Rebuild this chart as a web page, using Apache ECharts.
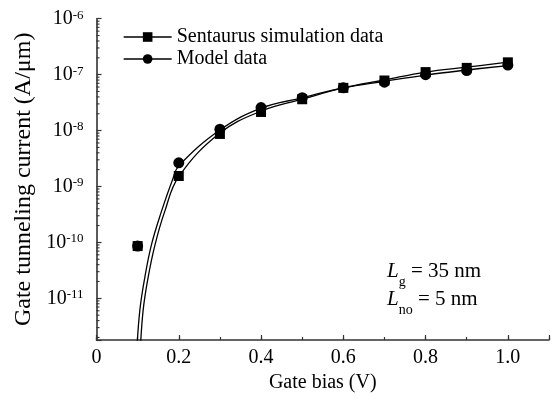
<!DOCTYPE html>
<html><head><meta charset="utf-8">
<script src="https://cdn.jsdelivr.net/npm/echarts@6/dist/echarts.min.js"></script>
<style>html,body{margin:0;padding:0;background:#fff}#c{width:552px;height:398px}</style>
</head><body><div id="c"></div>
<script>
// ---- data ----
const gateBias = [0.1, 0.2, 0.3, 0.4, 0.5, 0.6, 0.7, 0.8, 0.9, 1.0];
const simPoints = [8.6e-11, 1.54e-9, 8.7e-9, 2.15e-8, 3.63e-8, 5.8e-8, 7.85e-8, 1.11e-7, 1.32e-7, 1.66e-7];
const modelPoints = [8.6e-11, 2.65e-9, 1.06e-8, 2.58e-8, 3.88e-8, 5.8e-8, 7.33e-8, 1.0e-7, 1.18e-7, 1.48e-7];
const simCurveX = [0.106, 0.1132, 0.1253, 0.1422, 0.1657, 0.2, 0.3, 0.4, 0.5, 0.6, 0.7, 0.8, 0.9, 1.0];
const simCurveY = [1.0e-12, 5.98e-12, 2.33e-11, 9.06e-11, 3.55e-10, 1.5e-9, 9.03e-9, 2.22e-8, 3.63e-8, 5.78e-8, 8.02e-8, 1.11e-7, 1.36e-7, 1.67e-7];
const modelCurveX = [0.0975, 0.1052, 0.1173, 0.1335, 0.1577, 0.1857, 0.2, 0.3, 0.4, 0.5, 0.6, 0.7, 0.8, 0.9, 1.0];
const modelCurveY = [1.0e-12, 5.98e-12, 2.33e-11, 9.06e-11, 3.55e-10, 1.38e-9, 2.34e-9, 1.02e-8, 2.51e-8, 3.85e-8, 5.78e-8, 7.59e-8, 9.84e-8, 1.21e-7, 1.45e-7];
const seriesNames = ['Sentaurus simulation data', 'Model data'];
const xTickLabels = ['0', '0.2', '0.4', '0.6', '0.8', '1.0'];
const yMinorMantissas = [2, 3, 4, 5, 6, 7, 8, 9];
const yMinorDecades = [-12, -11, -10, -9, -8, -7];

const FONT = "'Liberation Serif','Times New Roman',serif";
const zip = (xs, ys) => xs.map((x, i) => [x, ys[i]]);
const yMin = 1.8e-12, yMax = 1e-6;
const yMinor = [];
yMinorDecades.forEach(d => yMinorMantissas.forEach(m => { const v = m * Math.pow(10, d); if (v > yMin && v < yMax) yMinor.push(v); }));

const chart = echarts.init(document.getElementById('c'), null, {renderer: 'canvas'});
chart.setOption({
  animation: false,
  backgroundColor: '#fff',
  grid: {left: 96.5, right: 0.6, top: 18.7, bottom: 55.3, containLabel: false},
  legend: {
    data: seriesNames, orient: 'vertical', left: 118, top: 22,
    itemWidth: 48, itemHeight: 12, itemGap: 2, selectedMode: false,
    textStyle: {fontFamily: FONT, fontSize: 20, color: '#000'},
    lineStyle: {width: 1.3, color: '#000'}, itemStyle: {color: '#000'}
  },
  xAxis: [{
    type: 'value', min: 0, max: 1.1, interval: 0.2, position: 'bottom',
    name: 'Gate bias (V)', nameLocation: 'middle', nameGap: 33,
    nameTextStyle: {fontFamily: FONT, fontSize: 20, color: '#000'},
    axisLine: {show: true, lineStyle: {color: '#333', width: 1.6}},
    axisTick: {show: true, inside: true, length: 5, lineStyle: {color: '#333', width: 1.2}},
    axisLabel: {fontFamily: FONT, fontSize: 20, color: '#000', margin: 8,
      formatter: v => { const i = Math.round(v / 0.2); return Math.abs(v - i * 0.2) < 1e-6 && i < xTickLabels.length ? xTickLabels[i] : ''; }},
    splitLine: {show: false}
  }, {
    type: 'value', min: 0, max: 1.1, interval: 0.1, position: 'bottom',
    axisLine: {show: false}, axisLabel: {show: false}, splitLine: {show: false},
    axisTick: {show: true, inside: true, length: 3, lineStyle: {color: '#333', width: 1.2}}
  }],
  yAxis: {
    type: 'log', logBase: 10, min: yMin, max: yMax,
    name: 'Gate tunneling current (A/\u03bcm)', nameLocation: 'middle', nameGap: 57,
    nameTextStyle: {fontFamily: FONT, fontSize: 24, color: '#000'},
    axisLine: {show: true, lineStyle: {color: '#333', width: 1.6}},
    axisTick: {show: true, inside: true, length: 5, lineStyle: {color: '#333', width: 1.2}},
    axisLabel: {margin: 13, color: '#000',
      formatter: v => { const l = Math.log10(v); const e = Math.round(l); if (Math.abs(l - e) > 1e-6) return ''; return '{b|10}{s|' + e + '}'; },
      rich: {b: {fontFamily: FONT, fontSize: 20, color: '#000'}, s: {fontFamily: FONT, fontSize: 13, color: '#000', verticalAlign: 'top'}}},
    splitLine: {show: false}
  },
  series: [
    {type: 'custom', coordinateSystem: 'cartesian2d', silent: true, z: 3,
      data: yMinor.map(v => [0, v]),
      renderItem: (params, api) => { const p = api.coord([0, api.value(1)]); return {type: 'line', shape: {x1: p[0], y1: p[1], x2: p[0] + 3, y2: p[1]}, style: {stroke: '#333', lineWidth: 1.1}}; }},
    {name: 'model-curve', type: 'line', data: zip(modelCurveX, modelCurveY), showSymbol: false, symbol: 'none', smooth: 0.4, clip: true,
      lineStyle: {color: '#000', width: 1.3}, z: 2},
    {name: 'sim-curve', type: 'line', data: zip(simCurveX, simCurveY), showSymbol: false, symbol: 'none', smooth: 0.4, clip: true,
      lineStyle: {color: '#000', width: 1.3}, z: 2},
    {name: seriesNames[0], type: 'line', data: zip(gateBias, simPoints), symbol: 'rect', symbolSize: 10,
      lineStyle: {width: 0, color: '#000'}, itemStyle: {color: '#000'}, z: 4},
    {name: seriesNames[1], type: 'line', data: zip(gateBias, modelPoints), symbol: 'circle', symbolSize: 11,
      lineStyle: {width: 0, color: '#000'}, itemStyle: {color: '#000'}, z: 5}
  ],
  graphic: [{
    type: 'text', left: 387, top: 261, z: 10,
    style: {text: '{i|L}{sub|g}{n| = 35 nm}\n{i|L}{sub|no}{n| = 5 nm}', rich: {
      i: {fontFamily: FONT, fontStyle: 'italic', fontSize: 21, lineHeight: 28, fill: '#000', verticalAlign: 'top'},
      n: {fontFamily: FONT, fontSize: 21, lineHeight: 28, fill: '#000', verticalAlign: 'top'},
      sub: {fontFamily: FONT, fontSize: 14, lineHeight: 15, fill: '#000', verticalAlign: 'bottom'}
    }}
  }]
});
</script></body></html>
